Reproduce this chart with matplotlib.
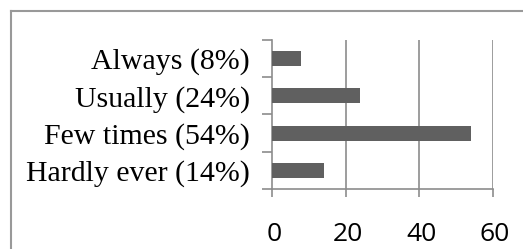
import matplotlib
matplotlib.use("Agg")
import matplotlib.pyplot as plt
import matplotlib.transforms as mtransforms
from matplotlib.lines import Line2D
import numpy as np

categories = ["Always (8%)", "Usually (24%)", "Few times (54%)", "Hardly ever (14%)"]
values = [8, 24, 54, 14]
xticks = [0, 20, 40, 60]

W, H = 523, 249
fig = plt.figure(figsize=(W / 100, H / 100), dpi=100)
fig.patch.set_facecolor("white")

# outer chart border (top and left edges visible)
bx, by = 10.5 / W, 1 - 11.5 / H
fig.lines.append(Line2D([bx, 1.0], [by, by], transform=fig.transFigure,
                        color="#999999", linewidth=1.5))
fig.lines.append(Line2D([bx, bx], [0.0, by], transform=fig.transFigure,
                        color="#999999", linewidth=1.5))

ax = fig.add_axes([272 / W, (H - 189) / H, (493 - 272) / W, (189 - 40) / H])
grid_c = "#8c8c8c"
pos = np.arange(len(categories))
ax.barh(pos, values, height=0.4, color="#606060", zorder=3)
ax.set_xlim(0, 60)
ax.set_ylim(len(categories) - 0.5, -0.5)

ax.set_xticks(xticks)
ax.set_xticklabels([str(t) for t in xticks], fontfamily="Open Sans", fontsize=19)
ax.tick_params(axis="x", length=6, width=1.2, color=grid_c, pad=18)
shift = mtransforms.ScaledTranslation(2 / 100, 0, fig.dpi_scale_trans)
for lbl in ax.get_xticklabels():
    lbl.set_transform(lbl.get_transform() + shift)
for t in xticks[1:]:
    ax.axvline(t, color=grid_c, linewidth=1.2, zorder=1)

ax.set_yticks(pos)
ax.set_yticklabels(categories, fontfamily="Liberation Serif", fontsize=21.5)
ax.tick_params(axis="y", which="major", length=0, pad=16)
ax.set_yticks(np.arange(-0.5, len(categories)), minor=True)
ax.tick_params(axis="y", which="minor", length=7, width=1.2, color=grid_c)

for s in ["top", "right"]:
    ax.spines[s].set_visible(False)
for s in ["left", "bottom"]:
    ax.spines[s].set_color(grid_c)
    ax.spines[s].set_linewidth(1.2)

fig.savefig("out.png", dpi=100)
